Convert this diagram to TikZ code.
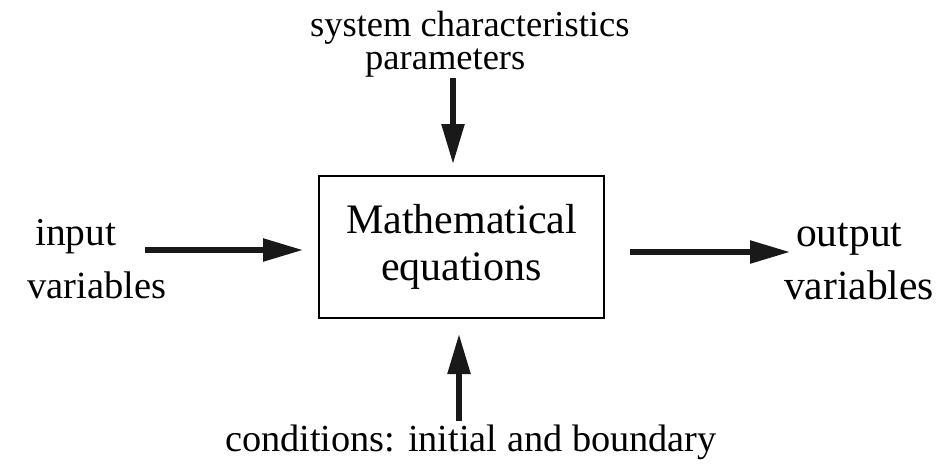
\documentclass[tikz,border=0pt]{standalone}
\usepackage{fontspec}
\setmainfont{Liberation Serif}
\usetikzlibrary{arrows.meta}
\tikzset{
  flow/.style={line width=5.5pt, -{Triangle[length=40pt,width=22pt]}, color=black!90},
  lbl/.style={inner sep=0pt, anchor=base west},
  eqbox/.style={draw, line width=2pt, minimum width=285pt, minimum height=142pt, align=center, inner sep=0pt, font=\fontsize{42}{47}\selectfont}
}
\begin{document}
\begin{tikzpicture}[x=1pt,y=-1pt]
\useasboundingbox (0,0) rectangle (936,464);
\node[eqbox] (box) at (461.5,247) {Mathematical\\equations};
% labels
\node[lbl, font=\fontsize{39.5}{40}\selectfont] (in1) at (35,245) {input};
\node[lbl, font=\fontsize{38.5}{39}\selectfont] (in2) at (27,298) {variables};
\node[lbl, font=\fontsize{41.5}{42}\selectfont] (out1) at (796,246) {output};
\node[lbl, font=\fontsize{41.5}{42}\selectfont] (out2) at (784,299) {variables};
\node[lbl, font=\fontsize{36.5}{37}\selectfont] (top1) at (310,36) {system characteristics};
\node[lbl, font=\fontsize{36.5}{37}\selectfont] (top2) at (365,69) {parameters};
\node[lbl, font=\fontsize{38.3}{39}\selectfont] (bot) at (225,451) {conditions: initial and boundary};
% arrow ends
\coordinate (a1s) at (145,250);
\coordinate (a1e) at (303,250);
\coordinate (a2s) at (630,252);
\coordinate (a2e) at (790,252);
\coordinate (a3s) at (453,78);
\coordinate (a3e) at (453,164);
\coordinate (a4s) at (459,421);
\coordinate (a4e) at (459,334);
\draw[flow] (a1s) -- (a1e);
\draw[flow] (a2s) -- (a2e);
\draw[flow] (a3s) -- (a3e);
\draw[flow] (a4s) -- (a4e);
\end{tikzpicture}
\end{document}
